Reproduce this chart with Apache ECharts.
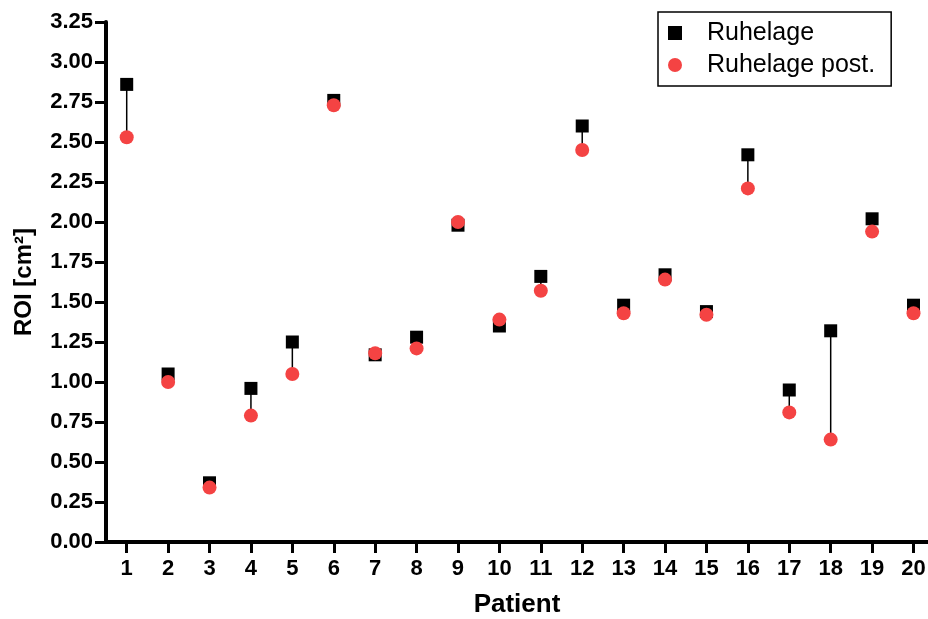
<!DOCTYPE html>
<html>
<head>
<meta charset="utf-8">
<script src="https://cdn.jsdelivr.net/npm/echarts@6/dist/echarts.min.js"></script>
<style>
  html, body { margin: 0; padding: 0; background: #fff; }
  #chart { width: 928px; height: 619px; }
</style>
</head>
<body>
<div id="chart"></div>
<script>
(function(){
    var patients = [1, 2, 3, 4, 5, 6, 7, 8, 9, 10, 11, 12, 13, 14, 15, 16, 17, 18, 19, 20];
    var ruhelage = [2.86, 1.05, 0.37, 0.96, 1.25, 2.76, 1.17, 1.28, 1.98, 1.35, 1.66, 2.60, 1.48, 1.67, 1.44, 2.42, 0.95, 1.32, 2.02, 1.48];
    var ruhelagePost = [2.53, 1.00, 0.34, 0.79, 1.05, 2.73, 1.18, 1.21, 2.00, 1.39, 1.57, 2.45, 1.43, 1.64, 1.42, 2.21, 0.81, 0.64, 1.94, 1.43];
    var yTicks = [0, 0.25, 0.5, 0.75, 1, 1.25, 1.5, 1.75, 2, 2.25, 2.5, 2.75, 3, 3.25];

    var font = '"Liberation Sans", Arial, sans-serif';
    var red = '#f44343';

    var pre = patients.map(function(p, i){ return [p, ruhelage[i]]; });
    var post = patients.map(function(p, i){ return [p, ruhelagePost[i]]; });
    var pairs = patients.map(function(p, i){ return [p, ruhelage[i], ruhelagePost[i]]; });

    var chart = echarts.init(document.getElementById('chart'));
    chart.setOption({
        animation: false,
        backgroundColor: '#fff',
        grid: {left: 106, right: 0, top: 22, bottom: 77, outerBoundsMode: 'none', containLabel: false},
        legend: {
            orient: 'vertical',
            left: 658, top: 12,
            padding: [8, 16, 8, 10],
            itemGap: 6,
            itemWidth: 14, itemHeight: 14,
            borderColor: '#000', borderWidth: 1.5,
            textStyle: {fontFamily: font, fontSize: 25, color: '#000', padding: [0, 0, 0, 20], lineHeight: 26},
            data: [
                {name: 'Ruhelage', icon: 'rect', itemStyle: {opacity: 1}},
                {name: 'Ruhelage post.', icon: 'circle', itemStyle: {opacity: 1}}
            ]
        },
        xAxis: {
            type: 'value',
            min: 0.5, max: 20.35,
            name: 'Patient',
            nameLocation: 'middle',
            nameGap: 50,
            nameTextStyle: {fontFamily: font, fontSize: 26, fontWeight: 'bold', color: '#000'},
            splitLine: {show: false},
            axisLine: {lineStyle: {color: '#000', width: 4}},
            axisTick: {customValues: patients, length: 11, lineStyle: {color: '#000', width: 3}},
            axisLabel: {customValues: patients, margin: 16, fontFamily: font, fontSize: 22, fontWeight: 'bold', color: '#000'}
        },
        yAxis: {
            type: 'value',
            min: 0, max: 3.25, interval: 0.25,
            name: 'ROI [cm²]',
            nameLocation: 'middle',
            nameGap: 70,
            nameTextStyle: {fontFamily: font, fontSize: 24, fontWeight: 'bold', color: '#000'},
            splitLine: {show: false},
            axisLine: {show: true, lineStyle: {color: '#000', width: 4}},
            axisTick: {show: true, length: 11, lineStyle: {color: '#000', width: 3}},
            axisLabel: {
                margin: 13, fontFamily: font, fontSize: 22, fontWeight: 'bold', color: '#000',
                customValues: yTicks,
                formatter: function(v){ return v.toFixed(2); }
            }
        },
        series: [
            {
                type: 'custom',
                silent: true,
                z: 1,
                data: pairs,
                renderItem: function(params, api){
                    var a = api.coord([api.value(0), api.value(1)]);
                    var b = api.coord([api.value(0), api.value(2)]);
                    return {
                        type: 'line',
                        shape: {x1: a[0], y1: a[1], x2: b[0], y2: b[1]},
                        style: {stroke: '#000', lineWidth: 1.5}
                    };
                }
            },
            {
                name: 'Ruhelage',
                type: 'scatter',
                symbol: 'rect',
                symbolSize: 13,
                z: 2,
                itemStyle: {color: '#000', opacity: 1},
                data: pre
            },
            {
                name: 'Ruhelage post.',
                type: 'scatter',
                symbol: 'circle',
                symbolSize: 14,
                z: 3,
                itemStyle: {color: red, opacity: 1},
                data: post
            }
        ]
    });
}());
</script>
</body>
</html>
